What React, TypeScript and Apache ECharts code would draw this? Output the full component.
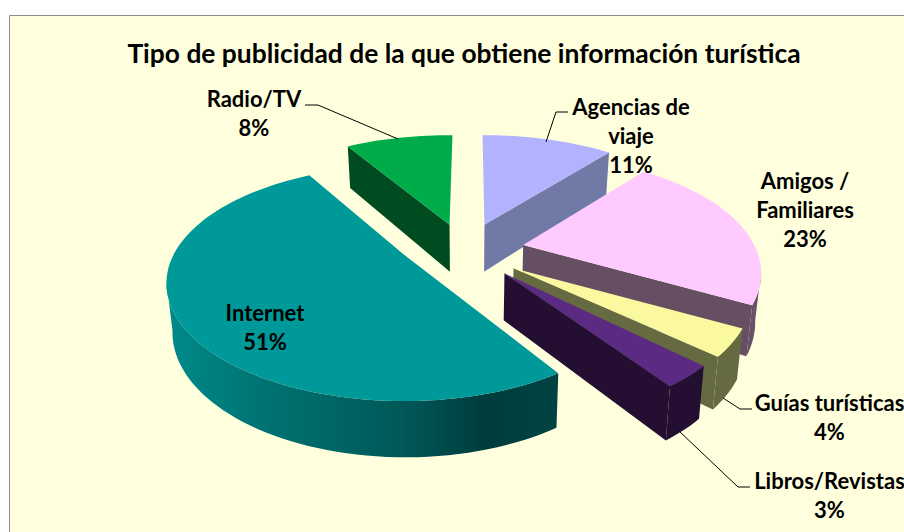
import React, { useEffect, useRef } from "react";
import * as echarts from "echarts";

const TITLE = "Tipo de publicidad de la que obtiene información turística";
const CATEGORIES = ["Agencias de\nviaje", "Amigos /\nFamiliares", "Guías turísticas", "Libros/Revistas", "Internet", "Radio/TV"];
const VALUES = [11.2, 22.5, 3.7, 3.0, 51.15, 8.45];
const START_ANGLE = -0.6;
const EXPLODE = [0.245, 0.248, 0.255, 0.259, 0.273, 0.245];
const EXPLODE_DIR = [19, 81.6, 130.7, 143.5, 258.6, 341];
const ANGLE_TRIM: [number, number][] = [[0, 0], [-1.5, -2], [-2, -2], [0, 0], [3.1, 1.2], [-1, 1.5]];
const TOP_COLORS = ["#B2B2FF", "#FFCAFF", "#FAF9A0", "#5B2A82", "#009999", "#00AC4A"];
const WALL_COLORS = ["#717AA6", "#664F63", "#666A40", "#240F33", "#004444", "#004B20"];
const ARC_STOPS: [number, string][][] = [
  [[0, "#717AA6"], [1, "#717AA6"]],
  [[0, "#664F63"], [1, "#6C5570"]],
  [[0, "#666A40"], [1, "#666A40"]],
  [[0, "#240F33"], [1, "#240F33"]],
  [[0, "#008A8A"], [0.25, "#007272"], [0.6, "#005858"], [0.82, "#003C3C"], [1, "#004343"]],
  [[0, "#004B20"], [1, "#004B20"]],
];
const LABEL_POS: [number, number][] = [[631, 135], [805, 209], [829.5, 417], [829.5, 495], [265, 327], [254, 113]];
const LEADERS: [number, number][][] = [
  [[568, 112], [556, 112], [546, 142]],
  [[752, 409], [740, 409], [723, 398]],
  [[750, 487], [738, 487], [679, 431]],
  [[305, 105], [318, 105], [398, 139]],
];

const CX = 467, CY = 249, A = 231, B = 111, P = 0.24, H = 47;
const persp = (v: number) => 1 / (1 + P * v);
const RAD = Math.PI / 180;

function sliceGeom(index: number) {
  const total = VALUES.reduce((a, b) => a + b, 0);
  let acc = 0;
  for (let i = 0; i < index; i++) acc += VALUES[i];
  const t1 = START_ANGLE + (acc / total) * 360 + ANGLE_TRIM[index][0];
  const t2 = START_ANGLE + ((acc + VALUES[index]) / total) * 360 + ANGLE_TRIM[index][1];
  const dir = EXPLODE_DIR[index] * RAD;
  const e = EXPLODE[index];
  const sA = persp(e * Math.cos(dir));
  const ax = CX + A * e * Math.sin(dir) * sA;
  const ay = CY - B * e * Math.cos(dir) * sA;
  const rim = (deg: number) => {
    const u = Math.sin(deg * RAD), v = Math.cos(deg * RAD), s = persp(v);
    const x = ax + A * u * s, y = ay - B * v * s;
    const d = H * Math.pow(s, 0.65);
    return { x, y, bx: CX + (x - CX) * 0.98, by: y + d };
  };
  return { t1, t2, ax, ay, rim };
}

function renderSlice(params: any) {
  const i = params.dataIndex;
  const { t1, t2, ax, ay, rim } = sliceGeom(i);
  const samples: ReturnType<typeof rim>[] = [];
  const n = Math.max(4, Math.ceil((t2 - t1) / 2));
  for (let k = 0; k <= n; k++) samples.push(rim(t1 + ((t2 - t1) * k) / n));
  const children: any[] = [];
  const bax = CX + (ax - CX) * 0.98;
  const m = rim((t1 + t2) / 2);
  const ip = { x: ax + (m.x - ax) * 0.5, y: ay + (m.y - ay) * 0.5 };
  [samples[0], samples[n]].forEach((r) => {
    const dx = r.x - ax;
    if (Math.abs(dx) < 4) return;
    const ly = ay + ((r.y - ay) * (ip.x - ax)) / dx;
    if (ip.y < ly) {
      children.push({
        type: "polygon",
        shape: { points: [[ax, ay], [r.x, r.y], [r.bx, r.by], [bax, ay + H]] },
        style: { fill: WALL_COLORS[i] },
      });
    }
  });
  const front: typeof samples = [];
  for (let k = 0; k < n; k++) {
    if (samples[k + 1].x < samples[k].x) {
      if (!front.length) front.push(samples[k]);
      front.push(samples[k + 1]);
    }
  }
  if (front.length > 1) {
    const pts = front.map((r) => [r.x, r.y]).concat(front.slice().reverse().map((r) => [r.bx, r.by]));
    children.push({
      type: "polygon",
      shape: { points: pts },
      style: {
        fill: new echarts.graphic.LinearGradient(0, 0, 1, 0, ARC_STOPS[i].map(([offset, color]) => ({ offset, color }))),
      },
    });
  }
  children.push({
    type: "polygon",
    shape: { points: [[ax, ay], ...samples.map((r) => [r.x, r.y])] },
    style: { fill: TOP_COLORS[i] },
  });
  return { type: "group", children };
}

const FONT = "Lato";

export default function App() {
  const ref = useRef<HTMLDivElement>(null);
  useEffect(() => {
    const chart = echarts.init(ref.current!, undefined, { renderer: "svg" });
    const graphics: any[] = [
      { type: "rect", z: -10, silent: true, shape: { x: 9.5, y: 15.5, width: 1000, height: 600 }, style: { fill: "#FFFFDD", stroke: "#8C8C8C", lineWidth: 1 } },
    ];
    LEADERS.forEach((pts) => {
      graphics.push({ type: "polyline", z: 20, silent: true, shape: { points: pts }, style: { fill: "none", stroke: "#000000", lineWidth: 1 } });
    });
    CATEGORIES.forEach((name, i) => {
      graphics.push({
        type: "text", z: 30, silent: true, x: LABEL_POS[i][0], y: LABEL_POS[i][1],
        style: {
          text: `${name}\n${Math.round(VALUES[i])}%`, fill: "#000000", font: `700 22px ${FONT}`,
          lineHeight: 29, align: "center", verticalAlign: "middle",
        },
      });
    });
    chart.setOption({
      animation: false,
      backgroundColor: "#FFFFFF",
      title: { text: TITLE, left: 459, top: 35, textAlign: "center", textStyle: { fontFamily: FONT, fontWeight: 700, fontSize: 26.4, color: "#000000" }, z: 30 },
      graphic: graphics,
      series: [{ type: "custom", coordinateSystem: "none", silent: true, z: 5, clip: false, renderItem: renderSlice, data: VALUES.map((v) => [v]) }],
    });
    return () => chart.dispose();
  }, []);
  return <div ref={ref} style={{ position: "fixed", left: 0, top: 0, width: 904, height: 532 }} />;
}
